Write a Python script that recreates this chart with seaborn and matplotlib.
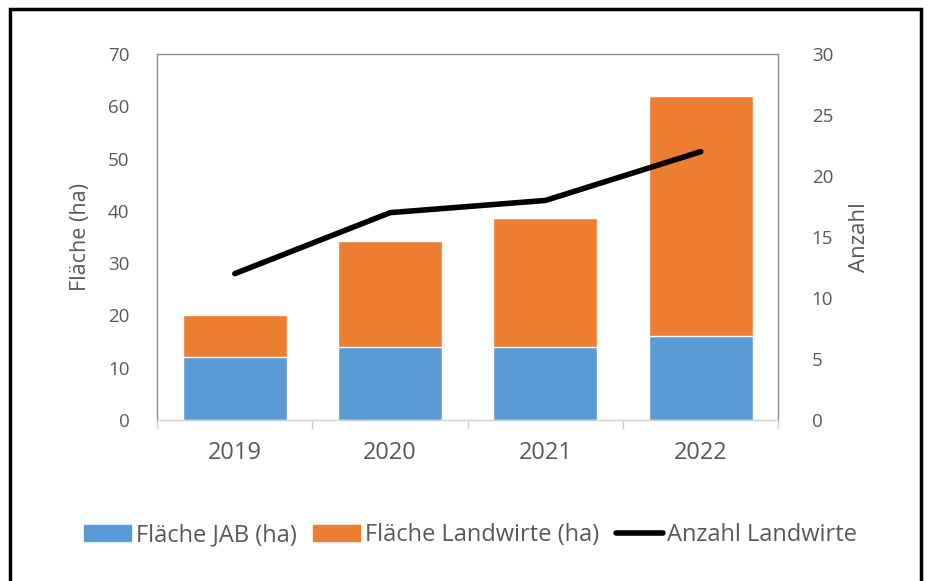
import matplotlib
matplotlib.use("Agg")
import matplotlib.pyplot as plt
import seaborn as sns
import pandas as pd
import numpy as np
from matplotlib.patches import Rectangle, Patch
from matplotlib.lines import Line2D

# Daten
jahre = ["2019", "2020", "2021", "2022"]
flaeche_jab = [12, 14, 14, 16]
flaeche_landwirte = [8, 20.2, 24.6, 46]
anzahl_landwirte = [12, 17, 18, 22]

df = pd.DataFrame({"Jahr": jahre, "JAB": flaeche_jab,
                   "Landwirte": flaeche_landwirte, "Anzahl": anzahl_landwirte})
df["Gesamt"] = df["JAB"] + df["Landwirte"]

sns.set_style("white")
plt.rcParams["font.family"] = ["Open Sans", "DejaVu Sans"]
grau = "#595959"

fig = plt.figure(figsize=(9.3, 5.81), dpi=100)
ax = fig.add_axes([0.169, 0.277, 0.668, 0.630])

blau = "#5B9BD5"
orange = "#ED7D31"

# Gestapelte Balken: erst Gesamt (orange), dann JAB (blau) darüber
sns.barplot(data=df, x="Jahr", y="Gesamt", color=orange, width=0.67,
            saturation=1, ax=ax)
sns.barplot(data=df, x="Jahr", y="JAB", color=blau, width=0.67,
            saturation=1, ax=ax)

ax.set_ylim(0, 70)
ax.set_yticks(np.arange(0, 71, 10))
ax.set_xlim(-0.5, 3.5)
ax.set_xlabel("")
ax.set_ylabel("Fläche (ha)", fontsize=15.5, color=grau, labelpad=12)
ax.tick_params(axis="y", labelsize=13.5, colors=grau, length=0, pad=20)
ax.tick_params(axis="x", labelsize=17, colors=grau, length=0, pad=15)
for s in ax.spines.values():
    s.set_color("#8c8c8c")
    s.set_linewidth(1)
ax.spines["bottom"].set_color("#d0d0d0")

# Trennstriche zwischen Kategorien
for xb in np.arange(-0.5, 4, 1):
    ax.plot([xb, xb], [0, -1.6], color="#d0d0d0", lw=1, clip_on=False)

# Zweite Achse: Anzahl
ax2 = ax.twinx()
sns.lineplot(x=np.arange(len(jahre)), y=df["Anzahl"], color="black", lw=4,
             ax=ax2, solid_capstyle="round")
ax2.set_ylim(0, 30)
ax2.set_yticks(np.arange(0, 31, 5))
ax2.set_ylabel("Anzahl", fontsize=16, color=grau, labelpad=11)
ax2.tick_params(axis="y", labelsize=13.5, colors=grau, length=0, pad=24)
for s in ax2.spines.values():
    s.set_visible(False)

# Legende
handles = [Patch(color=blau, label="Fläche JAB (ha)"),
           Patch(color=orange, label="Fläche Landwirte (ha)"),
           Line2D([0], [0], color="black", lw=4, label="Anzahl Landwirte")]
fig.legend(handles=handles, loc="center", bbox_to_anchor=(0.506, 0.079), ncol=3,
           frameon=False, fontsize=17, labelcolor=grau, handlelength=2.0,
           handleheight=0.7, columnspacing=0.7, handletextpad=0.2)

# Rahmen um die Abbildung
fig.patches.append(Rectangle((0.011, -0.05), 0.979, 1.035, transform=fig.transFigure,
                             fill=False, edgecolor="black", lw=2.5))

fig.savefig("out.png", dpi=100)
